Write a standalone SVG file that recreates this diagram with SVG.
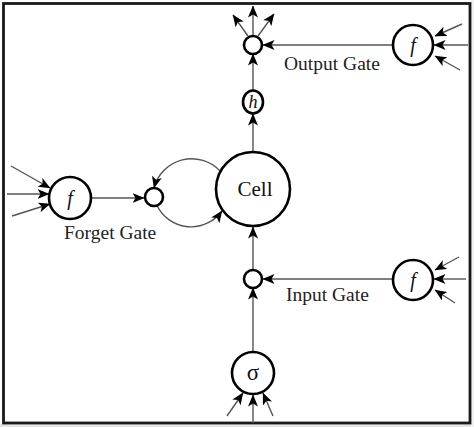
<svg xmlns="http://www.w3.org/2000/svg" width="474" height="427" viewBox="0 0 474 427">
<style>
.node{fill:#fff;stroke:#000;stroke-width:2.6}
.conn{fill:none;stroke:#555;stroke-width:1.4}
.lbl{font-family:"Liberation Serif","Times New Roman",serif;font-size:19.5px;fill:#222}
.sym{font-family:"Liberation Serif","Times New Roman",serif;font-size:20px;fill:#111;text-anchor:middle}
.it{font-style:italic}
</style>
<defs>
<marker id="ah" viewBox="0 0 12 10" refX="11.5" refY="5" markerWidth="12" markerHeight="10" markerUnits="userSpaceOnUse" orient="auto">
<path d="M0,0 L12,5 L0,10 L3,5 z" fill="#000"/>
</marker>
</defs>
<rect x="0" y="0" width="474" height="427" fill="#fff"/>
<rect x="0" y="424" width="474" height="3" fill="#e4e4e4"/>
<rect x="471" y="0" width="3" height="427" fill="#f0f0f0"/>
<rect x="3.5" y="3.5" width="466.5" height="419.5" fill="none" stroke="#1a1a1a" stroke-width="2.8"/>

<g id="connectors" class="conn">
<path d="M253,351 L253,288" marker-end="url(#ah)"/>
<path d="M393,279 L263,279" marker-end="url(#ah)"/>
<path d="M253,269 L253,227" marker-end="url(#ah)"/>
<path d="M253,152 L253,114" marker-end="url(#ah)"/>
<path d="M253,91 L253,54" marker-end="url(#ah)"/>
<path d="M393,45 L263,45" marker-end="url(#ah)"/>
<path d="M253,35 L253,6" marker-end="url(#ah)"/>
<path d="M248,36 L233,15" marker-end="url(#ah)"/>
<path d="M258,36 L274,14" marker-end="url(#ah)"/>
<path d="M91,198 L144,198" marker-end="url(#ah)"/>
<path d="M220.5,171.4 A39,39 0 0 0 154,188" marker-end="url(#ah)"/>
<path d="M157,205.5 A38,38 0 0 0 222,211" marker-end="url(#ah)"/>
<path d="M11,166 L50,188" marker-end="url(#ah)"/>
<path d="M7,194 L49,194" marker-end="url(#ah)"/>
<path d="M12,216 L50,204" marker-end="url(#ah)"/>
<path d="M462,24 L435,36" marker-end="url(#ah)"/>
<path d="M468,45 L434,45" marker-end="url(#ah)"/>
<path d="M460,70 L435,56" marker-end="url(#ah)"/>
<path d="M459,257 L435,270" marker-end="url(#ah)"/>
<path d="M466,279 L434,279" marker-end="url(#ah)"/>
<path d="M455,303 L435,290" marker-end="url(#ah)"/>
<path d="M227,416 L243,393" marker-end="url(#ah)"/>
<path d="M253,423 L253,395" marker-end="url(#ah)"/>
<path d="M273,416 L263,393" marker-end="url(#ah)"/>
</g>

<g id="cell">
<circle class="node" cx="253" cy="189" r="37"/>
<text class="sym" x="255" y="196" style="font-size:21px">Cell</text>
</g>
<g id="h">
<ellipse class="node" cx="253" cy="102" rx="10" ry="11.5"/>
<text class="sym it" x="253" y="108" style="font-size:18px">h</text>
</g>
<g id="output-mult"><circle class="node" cx="253" cy="45" r="9"/></g>
<g id="output-gate">
<circle class="node" cx="413" cy="45" r="20"/>
<text class="sym it" x="413" y="52">f</text>
</g>
<text class="lbl" x="284" y="70">Output Gate</text>
<g id="forget-mult"><circle class="node" cx="154" cy="197" r="9"/></g>
<g id="forget-gate">
<circle class="node" cx="70" cy="198" r="21"/>
<text class="sym it" x="70" y="205">f</text>
</g>
<text class="lbl" x="64" y="239">Forget Gate</text>
<g id="input-mult"><circle class="node" cx="253" cy="279" r="9"/></g>
<g id="input-gate">
<circle class="node" cx="413" cy="280" r="20"/>
<text class="sym it" x="413" y="287">f</text>
</g>
<text class="lbl" x="286" y="301">Input Gate</text>
<g id="sigma">
<circle class="node" cx="253" cy="373" r="21"/>
<text class="sym" x="253" y="380" style="font-size:23px">σ</text>
</g>
</svg>
